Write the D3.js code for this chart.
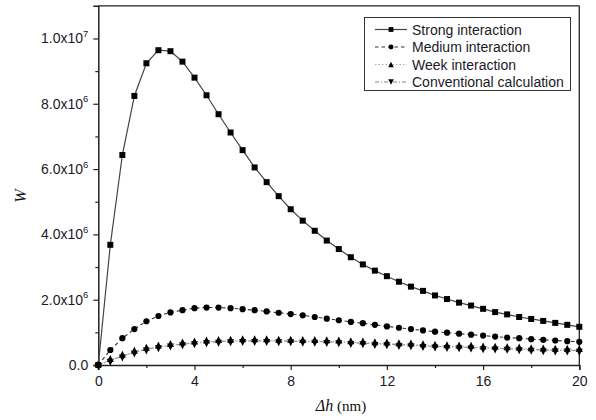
<!DOCTYPE html>
<html>
<head>
<meta charset="utf-8">
<script src="https://cdn.jsdelivr.net/npm/d3@7"></script>
<style>
  html, body { margin: 0; padding: 0; background: #fff; }
  svg { display: block; }
</style>
</head>
<body>
<svg id="chart" width="596" height="420"></svg>
<script>
// Height difference Δh (nm)
const dh = [0, 0.5, 1, 1.5, 2, 2.5, 3, 3.5, 4, 4.5,
            5, 5.5, 6, 6.5, 7, 7.5, 8, 8.5, 9, 9.5,
            10, 10.5, 11, 11.5, 12, 12.5, 13, 13.5, 14, 14.5,
            15, 15.5, 16, 16.5, 17, 17.5, 18, 18.5, 19, 19.5, 20];

// W values, in units of 10^6
const strong = [0, 3.68, 6.43, 8.24, 9.24, 9.64, 9.61, 9.29, 8.80, 8.26,
                7.68, 7.12, 6.58, 6.05, 5.60, 5.17, 4.77, 4.42, 4.11, 3.81,
                3.55, 3.30, 3.08, 2.89, 2.72, 2.55, 2.40, 2.27, 2.13, 2.02,
                1.91, 1.82, 1.72, 1.62, 1.55, 1.47, 1.41, 1.35, 1.29, 1.23, 1.17];
const medium = [0, 0.46, 0.82, 1.10, 1.34, 1.50, 1.61, 1.68, 1.74, 1.76,
                1.76, 1.74, 1.71, 1.68, 1.64, 1.60, 1.56, 1.52, 1.47, 1.42,
                1.37, 1.32, 1.28, 1.23, 1.18, 1.14, 1.10, 1.06, 1.02, 0.99,
                0.96, 0.93, 0.90, 0.87, 0.84, 0.82, 0.79, 0.77, 0.75, 0.73, 0.71];
const weak = [0, 0.15, 0.28, 0.40, 0.49, 0.56, 0.61, 0.65, 0.68, 0.71,
              0.73, 0.74, 0.75, 0.75, 0.75, 0.74, 0.74, 0.73, 0.73, 0.72,
              0.71, 0.69, 0.68, 0.66, 0.65, 0.63, 0.62, 0.60, 0.58, 0.57,
              0.56, 0.55, 0.53, 0.52, 0.51, 0.50, 0.48, 0.47, 0.46, 0.46, 0.45];
const conventional = [0, 0.14, 0.27, 0.39, 0.48, 0.55, 0.60, 0.64, 0.67, 0.70,
                      0.72, 0.73, 0.74, 0.74, 0.74, 0.73, 0.73, 0.72, 0.72, 0.71,
                      0.70, 0.68, 0.67, 0.65, 0.64, 0.62, 0.61, 0.59, 0.57, 0.56,
                      0.55, 0.54, 0.52, 0.51, 0.50, 0.49, 0.47, 0.46, 0.45, 0.45, 0.44];

const seriesNames = ["Strong interaction", "Medium interaction", "Week interaction", "Conventional calculation"];

// Axis ticks
const xTicks = [0, 4, 8, 12, 16, 20];
const xMinorTicks = [2, 6, 10, 14, 18];
const yTicks = [0, 2, 4, 6, 8, 10];           // ×10^6
const yTickMantissa = ["0.0", "2.0", "4.0", "6.0", "8.0", "1.0"];
const yTickExponent = ["", "6", "6", "6", "6", "7"];
const yMinorTicks = [1, 3, 5, 7, 9];

const svg = d3.select("#chart");
const plotLeft = 98.3, plotRight = 579.3, plotTop = 5.8, plotBottom = 365;

const x = d3.scaleLinear().domain([0, 20]).range([plotLeft, plotRight]);
const y = d3.scaleLinear().domain([0, 11]).range([plotBottom, plotTop]);

const font = "Liberation Sans, Arial, sans-serif";
const serif = "Liberation Serif, Times New Roman, serif";
const textColor = "#1a1a28";

// Frame (top and right borders)
svg.append("line").attr("x1", plotLeft).attr("x2", plotRight).attr("y1", plotTop).attr("y2", plotTop)
  .attr("stroke", "#222").attr("stroke-width", 1.3);
svg.append("line").attr("x1", plotRight).attr("x2", plotRight).attr("y1", plotTop).attr("y2", plotBottom)
  .attr("stroke", "#222").attr("stroke-width", 1.3);

// X axis
const xAxis = svg.append("g").attr("transform", `translate(0,${plotBottom})`)
  .call(d3.axisBottom(x).tickValues(xTicks).tickSize(5).tickPadding(6).tickFormat(d3.format("d")));
svg.append("g").attr("transform", `translate(0,${plotBottom})`)
  .call(d3.axisBottom(x).tickValues(xMinorTicks).tickSize(3).tickFormat(""))
  .call(g => g.select(".domain").remove());

// Y axis
svg.append("g").attr("transform", `translate(${plotLeft},0)`)
  .call(d3.axisLeft(y).tickValues(yTicks).tickSize(5).tickFormat(""));
svg.append("g").attr("transform", `translate(${plotLeft},0)`)
  .call(d3.axisLeft(y).tickValues(yMinorTicks).tickSize(3).tickFormat(""))
  .call(g => g.select(".domain").remove());

svg.selectAll(".domain").attr("stroke", "#222").attr("stroke-width", 1.5);
svg.selectAll(".tick line").attr("stroke", "#222").attr("stroke-width", 1.2);

xAxis.selectAll(".tick text")
  .attr("font-family", font).attr("font-size", 14).attr("fill", textColor);

// Y tick labels with superscript exponent
yTicks.forEach((v, i) => {
  const t = svg.append("text")
    .attr("x", plotLeft - 10).attr("y", y(v) + 5)
    .attr("text-anchor", "end")
    .attr("font-family", font).attr("font-size", 14).attr("fill", textColor);
  if (yTickExponent[i] === "") {
    t.text(yTickMantissa[i]);
  } else {
    t.append("tspan").text(yTickMantissa[i] + "x10");
    t.append("tspan").attr("font-size", 9.5).attr("dy", -6.5).text(yTickExponent[i]);
  }
});

// Axis titles
svg.append("text")
  .attr("transform", `translate(26,196) rotate(-90)`)
  .attr("text-anchor", "middle")
  .attr("font-family", serif).attr("font-style", "italic").attr("font-size", 16)
  .attr("fill", "#111").text("W");

const xt = svg.append("text")
  .attr("x", 341).attr("y", 411).attr("text-anchor", "middle")
  .attr("font-family", serif).attr("font-size", 16).attr("fill", "#111");
xt.append("tspan").attr("font-style", "italic").text("Δh");
xt.append("tspan").attr("font-size", 15).text(" (nm)");

// Marker shapes
function square(s) { return `M${-s},${-s}H${s}V${s}H${-s}Z`; }
function triUp(w, h) { return `M0,${-h / 2}L${w / 2},${h / 2}L${-w / 2},${h / 2}Z`; }
function triDown(w, h) { return `M0,${h / 2}L${w / 2},${-h / 2}L${-w / 2},${-h / 2}Z`; }

const series = [
  { name: seriesNames[0], values: strong, stroke: "#444", width: 1.2, dash: null, marker: "square" },
  { name: seriesNames[1], values: medium, stroke: "#333", width: 1.1, dash: "3.5,3", marker: "circle" },
  { name: seriesNames[2], values: weak, stroke: "#aaa", width: 1.1, dash: "1.5,2", marker: "up" },
  { name: seriesNames[3], values: conventional, stroke: "#888", width: 1.1, dash: "4,2,1,2", marker: "down" }
];

const line = d3.line().x(d => x(d[0])).y(d => y(d[1]));

function drawMarker(g, type, px, py, scale) {
  const k = scale || 1;
  if (type === "square") {
    g.append("path").attr("d", square(3 * k)).attr("transform", `translate(${px},${py})`).attr("fill", "#000");
  } else if (type === "circle") {
    g.append("circle").attr("cx", px).attr("cy", py).attr("r", 3.1 * k).attr("fill", "#000");
  } else if (type === "up") {
    g.append("path").attr("d", triUp(7 * k, 7 * k)).attr("transform", `translate(${px},${py - 1.7 * k})`).attr("fill", "#000");
  } else {
    g.append("path").attr("d", triDown(7 * k, 7 * k)).attr("transform", `translate(${px},${py + 1.7 * k})`).attr("fill", "#000");
  }
}

// Draw from back to front so strong interaction sits on top
[...series].reverse().forEach(s => {
  const pts = dh.map((d, i) => [d, s.values[i]]);
  svg.append("path").datum(pts)
    .attr("d", line).attr("fill", "none")
    .attr("stroke", s.stroke).attr("stroke-width", s.width)
    .attr("stroke-dasharray", s.dash);
  const g = svg.append("g");
  pts.forEach(p => drawMarker(g, s.marker, x(p[0]), y(p[1])));
});

// Legend
const lg = svg.append("g");
lg.append("rect").attr("x", 364.5).attr("y", 17.5).attr("width", 206).attr("height", 73)
  .attr("fill", "#fff").attr("stroke", "#333").attr("stroke-width", 1);
series.forEach((s, i) => {
  const ry = 29.5 + i * 17.5;
  lg.append("line").attr("x1", 375).attr("x2", 407).attr("y1", ry).attr("y2", ry)
    .attr("stroke", s.stroke).attr("stroke-width", s.width).attr("stroke-dasharray", s.dash);
  if (s.marker === "up" || s.marker === "down") {
    // single triangle, centred on the row
    const sh = s.marker === "up" ? triUp(5.5, 5.5) : triDown(5.5, 5.5);
    lg.append("path").attr("d", sh).attr("transform", `translate(391,${ry})`).attr("fill", "#000");
  } else {
    drawMarker(lg, s.marker, 391, ry, 0.8);
  }
  lg.append("text").attr("x", 412).attr("y", ry + 5)
    .attr("font-family", font).attr("font-size", 14).attr("fill", textColor)
    .text(s.name);
});
</script>
</body>
</html>
